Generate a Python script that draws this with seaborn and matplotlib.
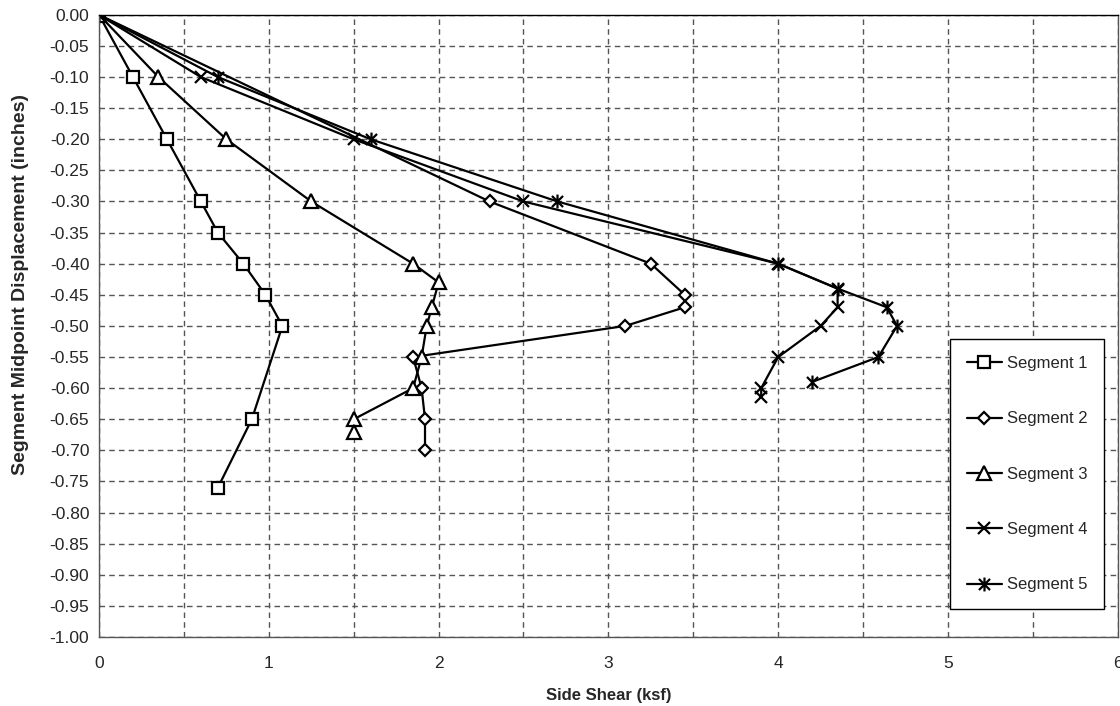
import matplotlib
matplotlib.use("Agg")
import matplotlib.pyplot as plt
import seaborn as sns
import numpy as np
import pandas as pd
from matplotlib.path import Path
from matplotlib.ticker import MultipleLocator, FormatStrFormatter

# ---- data ----
seg1_x = [0, 0.20, 0.40, 0.60, 0.70, 0.85, 0.98, 1.08, 0.90, 0.70]
seg1_y = [0, -0.10, -0.20, -0.30, -0.35, -0.40, -0.45, -0.50, -0.65, -0.76]

seg2_x = [0, 2.30, 3.25, 3.45, 3.45, 3.10, 1.85, 1.90, 1.92, 1.92]
seg2_y = [0, -0.30, -0.40, -0.45, -0.47, -0.50, -0.55, -0.60, -0.65, -0.70]

seg3_x = [0, 0.35, 0.75, 1.25, 1.85, 2.00, 1.96, 1.93, 1.90, 1.85, 1.50, 1.50]
seg3_y = [0, -0.10, -0.20, -0.30, -0.40, -0.43, -0.47, -0.50, -0.55, -0.60, -0.65, -0.67]

seg4_x = [0, 0.60, 1.50, 2.50, 4.00, 4.35, 4.35, 4.25, 4.00, 3.90, 3.90]
seg4_y = [0, -0.10, -0.20, -0.30, -0.40, -0.44, -0.47, -0.50, -0.55, -0.60, -0.615]

seg5_x = [0, 0.70, 1.60, 2.70, 4.00, 4.35, 4.64, 4.70, 4.59, 4.20]
seg5_y = [0, -0.10, -0.20, -0.30, -0.40, -0.44, -0.47, -0.50, -0.55, -0.59]

labels = ["Segment 1", "Segment 2", "Segment 3", "Segment 4", "Segment 5"]
x_ticks = [0, 1, 2, 3, 4, 5, 6]

# ---- style ----
sns.set_style("white")
plt.rcParams['font.family'] = ['Liberation Sans', 'DejaVu Sans']

star_marker = Path(
    [(-1, -1), (1, 1), (-1, 1), (1, -1), (0, -1.25), (0, 1.25)],
    [Path.MOVETO, Path.LINETO, Path.MOVETO, Path.LINETO, Path.MOVETO, Path.LINETO],
)

styles = [
    dict(marker='s', markersize=9),
    dict(marker='D', markersize=6.5),
    dict(marker='^', markersize=9.5),
    dict(marker='x', markersize=9),
    dict(marker=star_marker, markersize=10),
]

fig = plt.figure(figsize=(11.2, 7.06), dpi=100)
ax = fig.add_axes([0.0884, 0.0977, 0.9096, 0.8813])

series = [(seg1_x, seg1_y), (seg2_x, seg2_y), (seg3_x, seg3_y), (seg4_x, seg4_y), (seg5_x, seg5_y)]
for (xs, ys), lab, st in zip(series, labels, styles):
    df = pd.DataFrame({"shear": xs, "disp": ys})
    sns.lineplot(data=df, x="shear", y="disp", sort=False, estimator=None, ax=ax,
                 color="black", linewidth=1.6, label=lab,
                 markerfacecolor="white", markeredgecolor="black",
                 markeredgewidth=1.6, **st)

ax.set_xlim(0, 6)
ax.set_ylim(-1.0, 0.0)
ax.set_xticks(x_ticks)
ax.set_xticklabels([str(t) for t in x_ticks])
ax.xaxis.set_minor_locator(MultipleLocator(0.5))
ax.yaxis.set_major_locator(MultipleLocator(0.05))
ax.yaxis.set_major_formatter(FormatStrFormatter('%.2f'))

grid_kw = dict(color="#555555", linestyle=(0, (4, 3)), linewidth=1.0)
ax.grid(True, which="major", axis="both", **grid_kw)
ax.grid(True, which="minor", axis="x", **grid_kw)
ax.set_axisbelow(True)

for sp in ax.spines.values():
    sp.set_color("#555555")
    sp.set_linewidth(1.0)
ax.spines['top'].set_color("black")

ax.tick_params(axis='y', which='major', direction='inout', length=6, color="#555555",
               labelsize=12.5, pad=4)
ax.tick_params(axis='x', which='major', direction='out', length=0, labelsize=12.5, pad=14)
ax.tick_params(axis='x', which='minor', length=0)

ax.set_xlabel("Side Shear (ksf)", fontsize=12, fontweight="bold", labelpad=12)
ax.set_ylabel("Segment Midpoint Displacement (inches)", fontsize=14, fontweight="bold",
              labelpad=15, y=0.566)

leg = ax.legend(loc="lower right", bbox_to_anchor=(0.9863, 0.045), fontsize=12,
                labelspacing=2.42, handlelength=2.15, handletextpad=0.25,
                borderpad=1.0, borderaxespad=0.0, frameon=True, fancybox=False,
                framealpha=1.0, edgecolor="black")
leg.get_frame().set_linewidth(1.0)

fig.savefig("out.png", dpi=100)
